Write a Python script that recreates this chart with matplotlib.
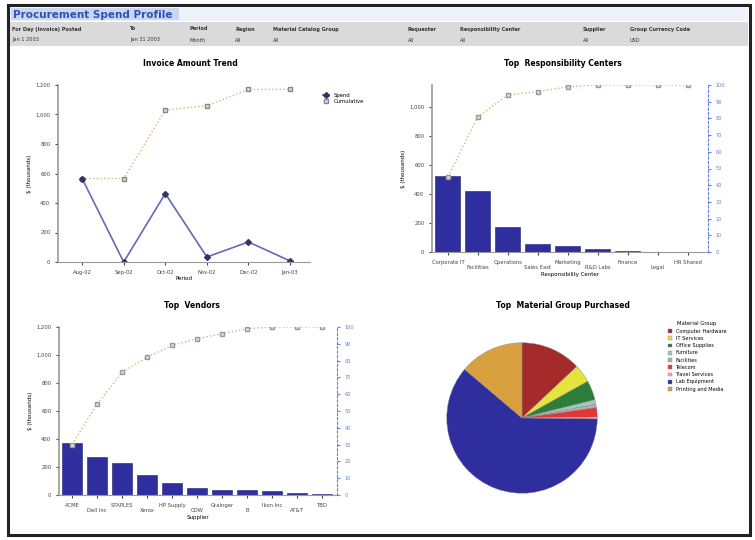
import numpy as np
import matplotlib
matplotlib.use("Agg")
import matplotlib.pyplot as plt
from matplotlib.patches import Rectangle

# ---------------- data ----------------
header_labels = ["For Day (Invoice) Posted", "To", "Period", "Region", "Material Catalog Group",
                 "Requester", "Responsibility Center", "Supplier", "Group Currency Code"]
header_values = ["Jan 1 2003", "Jan 31 2003", "Month", "All", "All", "All", "All", "All", "USD"]

periods = ["Aug-02", "Sep-02", "Oct-02", "Nov-02", "Dec-02", "Jan-03"]
spend = [566, 0, 464, 34, 136, 7]
cumulative = [566, 566, 1030, 1060, 1170, 1170]

resp_centers = ["Corporate IT", "Facilities", "Operations", "Sales East", "Marketing",
                "R&D Labs", "Finance", "Legal", "HR Shared"]
resp_spend = [522, 418, 170, 55, 44, 23, 8, 3, 1]
resp_cum_pct = [45, 81, 94, 96, 99, 100, 100, 100, 100]

vendors = ["ACME", "Dell Inc", "STAPLES", "Xerox", "HP Supply", "CDW", "Grainger",
           "B", "Ikon Inc", "AT&T", "TBD"]
vendor_spend = [370, 274, 226, 143, 83, 48, 36, 36, 31, 12, 4]
vendor_cum_pct = [30, 54, 73, 82, 89, 93, 96, 99, 100, 100, 100]

material_groups = ["Computer Hardware", "IT Services", "Office Supplies", "Furniture",
                   "Facilities", "Telecom", "Travel Services", "Lab Equipment",
                   "Printing and Media"]
material_share = [13.0, 3.9, 4.2, 1.0, 0.7, 2.0, 0.4, 61.0, 13.8]
material_colors = ["#A52A2A", "#E4E43A", "#2E7D3A", "#9FC9C0", "#B0B0B0",
                   "#E53535", "#F4A6C0", "#2E2E9E", "#D9A040"]

W, H = 755, 540
BAR = "#2E2E9E"
CUM = "#E2B070"
AX_BLUE = "#6080E0"

fig = plt.figure(figsize=(W / 100, H / 100), dpi=100)
fig.patch.set_facecolor("white")


def px_axes(x0, y0, x1, y1, **kw):
    return fig.add_axes([x0 / W, 1 - y1 / H, (x1 - x0) / W, (y1 - y0) / H], **kw)


# page frame, title bar and parameter header
bg = px_axes(0, 0, W, H)
bg.set_xlim(0, W)
bg.set_ylim(H, 0)
bg.axis("off")
bg.add_patch(Rectangle((8, 5), 742, 530, fill=False, lw=2.2, ec="#222222"))
bg.add_patch(Rectangle((10, 7), 738, 14, fc="#EEF3FA", ec="none"))
bg.add_patch(Rectangle((11, 8), 168, 12, fc="#C9D8F0", ec="none"))
bg.text(13, 14.5, "Procurement Spend Profile", color="#3050B8", fontsize=7.5,
        fontweight="bold", va="center")
bg.add_patch(Rectangle((10, 22), 738, 24, fc="#DADADA", ec="none"))
col_x = [12, 130, 190, 235, 273, 408, 460, 583, 630]
for x, lab, val in zip(col_x, header_labels, header_values):
    bg.text(x, 29, lab, fontsize=3.6, fontweight="bold", color="#333333", va="center")
    bg.text(x, 40, val, fontsize=3.6, color="#333333", va="center")


def style_axes(ax):
    for s in ["top", "right"]:
        ax.spines[s].set_visible(False)
    ax.spines["left"].set_color("#999999")
    ax.spines["bottom"].set_color("#999999")
    ax.spines["left"].set_linewidth(1.2)
    ax.tick_params(labelsize=3.8, length=2, colors="#444444")


def stagger(labels):
    return [l if i % 2 == 0 else "\n" + l for i, l in enumerate(labels)]


# ---------- trend line chart ----------
ax1 = px_axes(58, 85, 310, 262)
x = np.arange(len(periods))
ax1.plot(x, cumulative, ls=":", color=CUM, lw=1.0, marker="s", ms=3,
         mfc="#DDDDDD", mec="#888888", label="Cumulative")
ax1.plot(x, spend, color="#6868B8", lw=1.2, marker="D", ms=3,
         mfc="#333366", mec="#333366", label="Spend")
ax1.set_xlim(-0.58, 5.48)
ax1.set_ylim(0, 1200)
ax1.set_yticks(np.arange(0, 1201, 200))
ax1.set_yticklabels(["0", "200", "400", "600", "800", "1,000", "1,200"])
ax1.set_xticks(x)
ax1.set_xticklabels(periods)
ax1.set_ylabel("$ (thousands)", fontsize=4, labelpad=2)
ax1.set_xlabel("Period", fontsize=4, labelpad=1)
style_axes(ax1)
fig.text(190 / W, 1 - 63 / H, "Invoice Amount Trend", ha="center", va="center",
         fontsize=5.5, fontweight="bold")
h, l = ax1.get_legend_handles_labels()
fig.legend(h[::-1], l[::-1], loc="upper left", bbox_to_anchor=(318 / W, 1 - 88 / H),
           fontsize=3.8, frameon=False, handlelength=1.2, labelspacing=0.2)


def pareto(ax, cats, vals, pct, ymax, step, width):
    xs = np.arange(len(cats))
    ax.bar(xs, vals, width=width, color=BAR, edgecolor="#1E1E70", lw=0.4)
    ax.set_ylim(0, ymax)
    ax.set_yticks(np.arange(0, ymax + 1, step))
    ax.set_yticklabels([f"{v:,}" for v in np.arange(0, ymax + 1, step)])
    ax.set_xticks(xs)
    ax.set_xticklabels(stagger(cats))
    style_axes(ax)
    ax2 = ax.twinx()
    ax2.plot(xs, pct, ls=":", color=CUM, lw=1.0, marker="s", ms=2.5,
             mfc="#DDDDDD", mec="#999999")
    ax2.set_ylim(0, 100)
    ax2.set_yticks(np.arange(0, 101, 10))
    for s in ["top", "left", "bottom"]:
        ax2.spines[s].set_visible(False)
    ax2.spines["right"].set_color(AX_BLUE)
    ax2.spines["right"].set_linestyle((0, (2, 2)))
    ax2.tick_params(labelsize=3.6, length=2, colors=AX_BLUE)
    return ax2


# ---------- responsibility centers ----------
ax3 = px_axes(432, 85, 708, 252)
pareto(ax3, resp_centers, resp_spend, resp_cum_pct, 1000, 200, 0.83)
ax3.set_ylim(0, 1150)
ax3.set_xlim(-0.53, 8.67)
ax3.set_ylabel("$ (thousands)", fontsize=4, labelpad=2)
ax3.set_xlabel("Responsibility Center", fontsize=4, labelpad=1)
fig.text(563 / W, 1 - 63 / H, "Top  Responsibility Centers", ha="center", va="center",
         fontsize=5.5, fontweight="bold")

# ---------- vendors ----------
ax4 = px_axes(59, 327, 337, 495)
pareto(ax4, vendors, vendor_spend, vendor_cum_pct, 1200, 200, 0.8)
ax4.set_xlim(-0.52, 10.6)
ax4.set_ylabel("$ (thousands)", fontsize=4, labelpad=2)
ax4.set_xlabel("Supplier", fontsize=4, labelpad=1)
fig.text(192 / W, 1 - 305 / H, "Top  Vendors", ha="center", va="center",
         fontsize=5.5, fontweight="bold")

# ---------- material group pie ----------
ax5 = px_axes(446, 342, 598, 494)
wedges, _ = ax5.pie(material_share, colors=material_colors, startangle=90,
                    counterclock=False, radius=1.0,
                    wedgeprops=dict(lw=0.3, edgecolor="#888888"))
ax5.set_xlim(-1.01, 1.01)
ax5.set_ylim(-1.01, 1.01)
ax5.set_aspect("equal")
fig.text(563 / W, 1 - 305 / H, "Top  Material Group Purchased", ha="center", va="center",
         fontsize=5.5, fontweight="bold")
fig.legend(wedges, material_groups, title="Material Group", loc="upper left",
           bbox_to_anchor=(664 / W, 1 - 318 / H), fontsize=3.6, title_fontsize=3.8,
           frameon=False, handlelength=0.8, handleheight=0.8, labelspacing=0.45,
           borderpad=0.2)

fig.savefig("out.png", dpi=100)
